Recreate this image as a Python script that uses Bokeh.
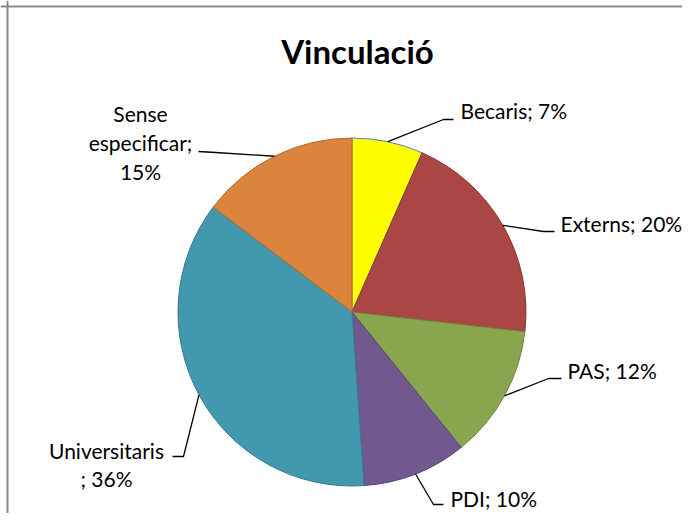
import numpy as np
from bokeh.plotting import figure
from bokeh.models import Range1d, Span, Label, ColumnDataSource
from bokeh.core.properties import value
from bokeh.embed import file_html
from bokeh.resources import INLINE

# ---- data ----
categories = ["Becaris", "Externs", "PAS", "PDI", "Universitaris", "Sense especificar"]
shares = [6.6, 20.2, 12.4, 9.7, 36.4, 14.7]
title_text = "Vinculació"

# ---- styles ----
fill_colors = ["#FFFF00", "#AA4643", "#89A54E", "#71588F", "#4198AF", "#DB843D"]
edge_colors = ["#4F81BD", "#8C3836", "#6E873C", "#5B4674", "#357D90", "#B46A30"]
FONT = "Lato"
W, H = 682, 513
CX, CY, R = 351.5, 311.5, 174.0

# label layout: elbow point, end point of leader, text anchor, alignment
layout = {
    "Becaris":           dict(elbow=(443, 119), end=(453, 119), txt=(460, 110), align="left", base="alphabetic"),
    "Externs":           dict(elbow=(543, 231), end=(554, 231), txt=(560, 223), align="left", base="alphabetic"),
    "PAS":               dict(elbow=(548, 378), end=(561, 378), txt=(567, 370), align="left", base="alphabetic"),
    "PDI":               dict(elbow=(433, 504), end=(443, 504), txt=(450, 498), align="left", base="alphabetic"),
    "Universitaris":     dict(elbow=(183, 456), end=(172, 456), txt=(106, 464), align="center", base="middle"),
    "Sense especificar": dict(elbow=(215, 152), end=(198, 151), txt=(140, 142), align="center", base="middle"),
}

vals = np.array(shares, dtype=float)
frac = vals / vals.sum()
cum_end = np.cumsum(frac)
cum_start = cum_end - frac
start_ang = np.pi / 2 - 2 * np.pi * cum_start
end_ang = np.pi / 2 - 2 * np.pi * cum_end
mid_ang = (start_ang + end_ang) / 2
pcts = [int(round(f * 100)) for f in frac]

p = figure(width=W, height=H, output_backend="svg", toolbar_location=None,
           x_range=Range1d(0, W), y_range=Range1d(-H, 0),
           min_border=0, outline_line_color=None)
p.axis.visible = False
p.grid.visible = False
p.background_fill_color = "white"
p.border_fill_color = "white"

src = ColumnDataSource(dict(cat=categories, start=start_ang, end=end_ang,
                            fill=fill_colors, edge=edge_colors))
p.wedge(x=CX, y=-CY, radius=R, start_angle="start", end_angle="end",
        direction="clock", fill_color="fill", line_color="edge", line_width=1,
        source=src)

# leader lines and labels
xs, ys = [], []
tx, ty, tt, ta, tb = [], [], [], [], []
for i, c in enumerate(categories):
    L = layout[c]
    x0 = CX + R * np.cos(mid_ang[i])
    y0 = CY - R * np.sin(mid_ang[i])
    xs.append([x0, L["elbow"][0], L["end"][0]])
    ys.append([-y0, -L["elbow"][1], -L["end"][1]])
    if c == "Universitaris":
        s = f"{c}\n; {pcts[i]}%"
    elif c == "Sense especificar":
        s = "Sense\nespecificar;\n" + f"{pcts[i]}%"
    else:
        s = f"{c}; {pcts[i]}%"
    tx.append(L["txt"][0]); ty.append(-L["txt"][1]); tt.append(s)
    ta.append(L["align"]); tb.append(L["base"])

p.multi_line(xs=xs, ys=ys, line_color="black", line_width=1.3)
p.text(x=tx, y=ty, text=tt, text_align=ta, text_baseline=tb,
       text_font=value(FONT), text_font_size="21px", text_color="black",
       text_line_height=1.15)

p.add_layout(Label(x=357, y=-50, text=title_text, text_align="center",
                   text_baseline="alphabetic", text_font=FONT,
                   text_font_size="33px", text_font_style="bold", text_color="black"))

# chart border (top and left edges visible in the picture)
p.add_layout(Span(location=7, dimension="height", line_color="#8C8C8C", line_width=2))
p.add_layout(Span(location=-6, dimension="width", line_color="#8C8C8C", line_width=2))

open("out.html", "w").write(file_html(p, INLINE))
